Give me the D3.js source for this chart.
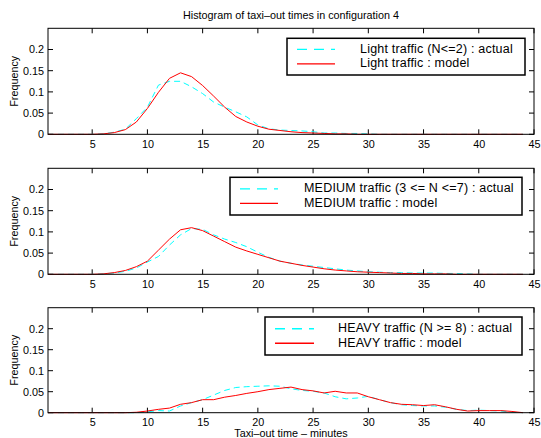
<!DOCTYPE html>
<html><head><meta charset="utf-8">
<script src="https://cdn.jsdelivr.net/npm/d3@7/dist/d3.min.js"></script>
<style>
html,body{margin:0;padding:0;background:#fff;overflow:hidden;}
text{font-family:"Liberation Sans",Arial,Helvetica,sans-serif;fill:#000;}
</style></head>
<body><svg id="chart" width="541" height="438"></svg>
<script>
const minutes = [1,2,3,4,5,6,7,8,9,10,11,12,13,14,15,16,17,18,19,20,21,22,23,24,25,26,27,28,29,30,31,32,33,34,35,36,37,38,39,40,41,42,43,44];
const xTicks = [5,10,15,20,25,30,35,40,45];
const yTicks = [0,0.05,0.1,0.15,0.2];
const yTickLabels = ["0","0.05","0.1","0.15","0.2"];

const lightActual = [0,0,0,0,0,0.001,0.005,0.012,0.037,0.064,0.116,0.125,0.125,0.112,0.096,0.076,0.064,0.053,0.041,0.022,0.013,0.010,0.009,0.008,0.006,0.003,0.003,0.002,0.002,0.001,0,0,0,0,0,0,0,0,0,0,0,0,0,0];
const lightModel  = [0,0,0,0,0,0.001,0.004,0.011,0.029,0.061,0.099,0.132,0.145,0.136,0.115,0.090,0.064,0.042,0.029,0.019,0.012,0.009,0.006,0.004,0.003,0.002,0.001,0.001,0,0,0,0,0,0,0,0,0,0,0,0,0,0,0,0];
const mediumActual = [0,0,0,0,0,0.001,0.003,0.007,0.015,0.029,0.042,0.069,0.093,0.108,0.106,0.093,0.083,0.075,0.065,0.052,0.040,0.031,0.026,0.022,0.019,0.016,0.013,0.010,0.008,0.006,0.005,0.004,0.004,0.003,0.003,0.003,0.002,0.002,0.001,0,0,0,0,0];
const mediumModel  = [0,0,0,0,0,0.001,0.004,0.009,0.018,0.031,0.057,0.083,0.105,0.110,0.103,0.090,0.077,0.064,0.055,0.047,0.039,0.031,0.026,0.021,0.017,0.013,0.010,0.008,0.006,0.005,0.004,0.003,0.002,0.002,0.001,0.001,0.001,0,0,0,0,0,0,0];
const heavyActual = [0,0,0,0,0,0,0,0,0,0.002,0.005,0.004,0.016,0.024,0.031,0.042,0.053,0.060,0.062,0.063,0.064,0.063,0.057,0.053,0.051,0.047,0.038,0.033,0.035,0.039,0.031,0.024,0.019,0.017,0.016,0.016,0.013,0.008,0.005,0.006,0.005,0.004,0.001,0];
const heavyModel  = [0,0,0,0,0,0,0,0,0.001,0.004,0.008,0.011,0.020,0.024,0.031,0.031,0.037,0.041,0.046,0.050,0.055,0.058,0.061,0.055,0.052,0.047,0.051,0.047,0.047,0.038,0.031,0.024,0.020,0.019,0.017,0.019,0.014,0.008,0.004,0.005,0.005,0.005,0.003,0];

const actualLabels = ["Light traffic (N<=2) : actual","MEDIUM traffic (3 <= N <=7) : actual","HEAVY traffic (N >= 8) : actual"];
const modelLabels  = ["Light traffic : model","MEDIUM traffic : model","HEAVY traffic : model"];
const title = "Histogram of taxi\u2013out times in configuration 4";
const xLabel = "Taxi\u2013out time \u2013 minutes";
const yLabel = "Frequency";

const panels = [
  {actual: lightActual, model: lightModel, top: 28.3, bottom: 134.3,
   leg: {x0: 287, x1: 525, y0: 38.3, y1: 75, lx0: 297, lx1: 335, tx: 360}},
  {actual: mediumActual, model: mediumModel, top: 168.3, bottom: 274.3,
   leg: {x0: 230, x1: 522, y0: 177.3, y1: 215, lx0: 240, lx1: 278, tx: 304}},
  {actual: heavyActual, model: heavyModel, top: 307.7, bottom: 412.7,
   leg: {x0: 265, x1: 522, y0: 317, y1: 355, lx0: 275, lx1: 314, tx: 338}}
];

const svg = d3.select("#chart");
const left = 48, right = 534;
const x = d3.scaleLinear().domain([1,45]).range([left,right]);
const tickLen = 5;
const fs = "10.8px";
const legFs = "12.5px";
const rowGap = 14.5;

svg.append("text").attr("x",(left+right)/2).attr("y",16).attr("text-anchor","middle")
  .attr("dominant-baseline","middle").style("font-size",fs).text(title);

panels.forEach((p,i) => {
  const y = d3.scaleLinear().domain([0,0.25]).range([p.bottom,p.top]);
  const g = svg.append("g");
  const xb = d3.axisBottom(x).tickValues(xTicks).tickSize(0).tickPadding(0).tickFormat(d3.format("d"));
  const gx = g.append("g").attr("transform",`translate(0,${p.bottom})`).call(xb);
  gx.select(".domain").remove();
  gx.selectAll("text").attr("y",6).attr("dy","0.71em").style("font-size",fs).style("font-family",'"Liberation Sans",Arial,sans-serif');
  g.selectAll(".xtb").data(xTicks).enter().append("line")
    .attr("x1",d=>x(d)).attr("x2",d=>x(d)).attr("y1",p.bottom).attr("y2",p.bottom-tickLen)
    .attr("stroke","#000").attr("stroke-width",1);
  g.selectAll(".xtt").data(xTicks).enter().append("line")
    .attr("x1",d=>x(d)).attr("x2",d=>x(d)).attr("y1",p.top).attr("y2",p.top+tickLen)
    .attr("stroke","#000").attr("stroke-width",1);
  const yl = d3.axisLeft(y).tickValues(yTicks).tickSize(0).tickPadding(4).tickFormat((d,k)=>yTickLabels[k]);
  const gy = g.append("g").attr("transform",`translate(${left},0)`).call(yl);
  gy.select(".domain").remove();
  gy.selectAll("text").style("font-size",fs).style("font-family",'"Liberation Sans",Arial,sans-serif');
  g.selectAll(".ytl").data(yTicks).enter().append("line")
    .attr("x1",left).attr("x2",left+tickLen).attr("y1",d=>y(d)).attr("y2",d=>y(d))
    .attr("stroke","#000").attr("stroke-width",1);
  g.selectAll(".ytr").data(yTicks).enter().append("line")
    .attr("x1",right).attr("x2",right-tickLen).attr("y1",d=>y(d)).attr("y2",d=>y(d))
    .attr("stroke","#000").attr("stroke-width",1);

  const line = d3.line().x((d,k)=>x(minutes[k])).y(d=>y(d));
  g.append("path").datum(p.actual).attr("d",line).attr("fill","none")
    .attr("stroke","#00ffff").attr("stroke-width",1).attr("stroke-dasharray","6,4");
  g.append("path").datum(p.model).attr("d",line).attr("fill","none")
    .attr("stroke","#ff0000").attr("stroke-width",1);

  g.append("rect").attr("x",left).attr("y",p.top).attr("width",right-left).attr("height",p.bottom-p.top)
    .attr("fill","none").attr("stroke","#000").attr("stroke-width",1);

  g.append("text").attr("transform",`translate(15,${(p.top+p.bottom)/2}) rotate(-90)`)
    .attr("text-anchor","middle").attr("dominant-baseline","middle").style("font-size",fs).text(yLabel);

  const L = p.leg;
  const mid = (L.y0 + L.y1) / 2;
  const r1 = mid - rowGap / 2, r2 = mid + rowGap / 2;
  g.append("rect").attr("x",L.x0).attr("y",L.y0).attr("width",L.x1-L.x0).attr("height",L.y1-L.y0)
    .attr("fill","#fff").attr("stroke","#000").attr("stroke-width",1.5);
  g.append("line").attr("x1",L.lx0).attr("x2",L.lx1).attr("y1",r1).attr("y2",r1)
    .attr("stroke","#00ffff").attr("stroke-width",1.3).attr("stroke-dasharray","10,7");
  g.append("line").attr("x1",L.lx0).attr("x2",L.lx1).attr("y1",r2).attr("y2",r2)
    .attr("stroke","#ff0000").attr("stroke-width",1.3);
  g.append("text").attr("x",L.tx).attr("y",r1).attr("dominant-baseline","middle")
    .style("font-size",legFs).style("letter-spacing","0.2px").text(actualLabels[i]);
  g.append("text").attr("x",L.tx).attr("y",r2).attr("dominant-baseline","middle")
    .style("font-size",legFs).style("letter-spacing","0.2px").text(modelLabels[i]);
});

svg.append("text").attr("x",(left+right)/2).attr("y",434).attr("text-anchor","middle")
  .attr("dominant-baseline","middle").style("font-size",fs).text(xLabel);
</script>
</body></html>
